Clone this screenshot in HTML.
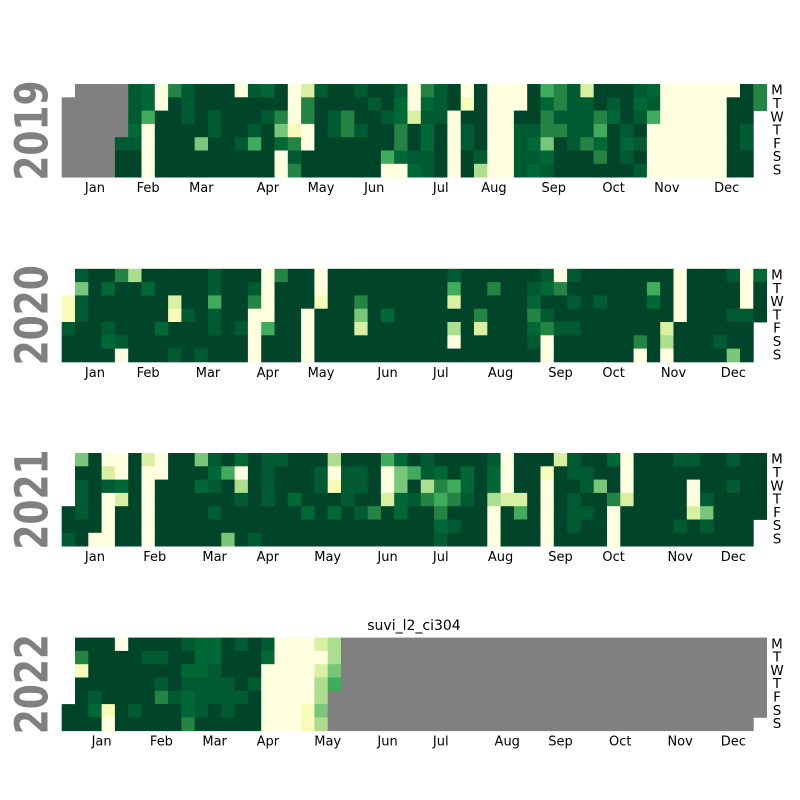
<!DOCTYPE html>
<html><head><meta charset="utf-8"><style>
html,body{margin:0;padding:0;background:#fff;}
svg{display:block;}
text{font-family:"DejaVu Sans","Liberation Sans",sans-serif;}
</style></head><body>
<svg id="chart" width="800" height="800" viewBox="0 0 800 800" xmlns="http://www.w3.org/2000/svg">
<text x="414" y="630" text-anchor="middle" font-size="14" fill="#000">suvi_l2_ci304</text>
</svg>
<script>
// '.' = outside year, 'x' = missing (grey), '0'..'9' = value level (low..high)
const years = [2019, 2020, 2021, 2022];
const data2019 = [
  ".xxxx8706899908790289989980" + "68909000956829998700000096",
  "xxxxx8709899999990699998970" + "78919000976889897800000996",
  "xxxxx8599898999860698699872" + "8809900996888679850000099.",
  "xxxxx7099998998941098689969" + "7908900886688598900000098.",
  "xxxx88099949985976099999969" + "7908900874986797800000098.",
  "xxxx99099999999908999999578" + "8909800887999698900000099.",
  "xxxx99099999999906999999007" + "8909300878999999800000099."
];
const data2020 = [
  ".89963999998999069909999999" + "99899999980899999990999807",
  ".49799799998998099909999999" + "99599699876999999590999909",
  "189999992995996099919969999" + "99299999799898999790999909",
  "189999991898990099099949799" + "99996999689999999990999889",
  "899899979998980599099929999" + "9939299976889999992999999.",
  "999789999999990999099999999" + "9909999980999999693999899.",
  "999909998989990999099999999" + "9999999990999999090999949."
];
const data2021 = [
  ".49009209948979889993999579" + "89999809992899709998899899",
  ".99209009997509899980889045" + "8797970991988990" + "9".repeat(10),
  ".89879099978939899981889049" + "36579709909984909999099899",
  ".89029099999989897999899278" + "65689322909899629999089999",
  "989099099998999999797986979" + "96999095909889099999249999",
  "9990990" + "9".repeat(20) + "9789909990989909999898999.",
  "890099099999498" + "9".repeat(12) + "98999" + "0" + "999" + "0" + "9999" + "0" + "9".repeat(10) + "."
];
const data2022 = [
  ".99909999877989800023" + "x".repeat(32),
  ".69999889977999700003" + "x".repeat(32),
  ".19999999778999000024" + "x".repeat(32),
  ".99999989888898000035" + "x".repeat(32),
  ".9899996878888900003" + "x".repeat(33),
  "99719899978989900014" + "x".repeat(33),
  "99909999969999900013" + "x".repeat(32) + "."
];
const yearData = [data2019, data2020, data2021, data2022];
const monthNames = ["Jan","Feb","Mar","Apr","May","Jun","Jul","Aug","Sep","Oct","Nov","Dec"];
const dayNames = ["M","T","W","T","F","S","S"];

const palette = ["#ffffe0","#f7fcb9","#d9f0a3","#addd8e","#78c679","#41ab5d","#238443","#006837","#005a32","#004529"];
const NS = "http://www.w3.org/2000/svg";
const svg = document.getElementById("chart");
const X0 = 61.7, CELL = 13.3;
const panelTops = [84, 268.8, 453, 637.6];
function xCol(c){ return X0 + c*CELL; }
function mk(tag, attrs){ const e=document.createElementNS(NS,tag); for(const k in attrs) e.setAttribute(k, attrs[k]); return e; }
function weekCol(y, m, d){
  const jan1 = new Date(Date.UTC(y,0,1));
  const off = (jan1.getUTCDay()+6)%7;
  const doy = Math.round((Date.UTC(y,m,d)-jan1)/86400000);
  return Math.floor((doy+off)/7);
}

years.forEach((yr, yi) => {
  const top = panelTops[yi];
  const g = mk("g", {});
  
  
  svg.appendChild(g);
  const rows = yearData[yi];
  for (let r = 0; r < 7; r++) {
    for (let c = 0; c < 53; c++) {
      const ch = rows[r][c];
      if (!ch || ch === ".") continue;
      const fill = ch === "x" ? "#808080" : palette[+ch];
      const rect = mk("rect", {x: xCol(c).toFixed(2), y: (top + r*CELL).toFixed(2), width: (CELL+0.4).toFixed(2), height: (CELL+0.4).toFixed(2), fill: fill});
      
      
      g.appendChild(rect);
    }
  }
  // year label
  const cy = top + 3.5*CELL;
  const yl = mk("text", {x: 0, y: 0, "text-anchor": "middle", "dominant-baseline": "central", transform: "translate(32 " + cy + ") rotate(-90) scale(1 1.25)", "font-size": 36, "font-weight": "bold", fill: "#808080", "font-family": "Liberation Sans, sans-serif"});
  yl.textContent = yr;
  
  
  svg.appendChild(yl);
  // day labels
  for (let r = 0; r < 7; r++) {
    const t = mk("text", {x: 777, y: top + (r+0.5)*CELL, "text-anchor": "middle", "dominant-baseline": "central", "font-size": 13.5, fill: "#000"});
    t.textContent = dayNames[r];
    
    
    svg.appendChild(t);
  }
  // month labels
  for (let m = 0; m < 12; m++) {
    const first = weekCol(yr, m, 1);
    const lastDay = new Date(Date.UTC(yr, m+1, 0)).getUTCDate();
    const last = weekCol(yr, m, lastDay);
    const cx = X0 + ((first + last + 1)/2)*CELL;
    const t = mk("text", {x: cx, y: top + 7*CELL + 11.5, "text-anchor": "middle", "dominant-baseline": "central", "font-size": 13, fill: "#000"});
    t.textContent = monthNames[m];
    
    
    svg.appendChild(t);
  }
});
</script>
</body></html>
